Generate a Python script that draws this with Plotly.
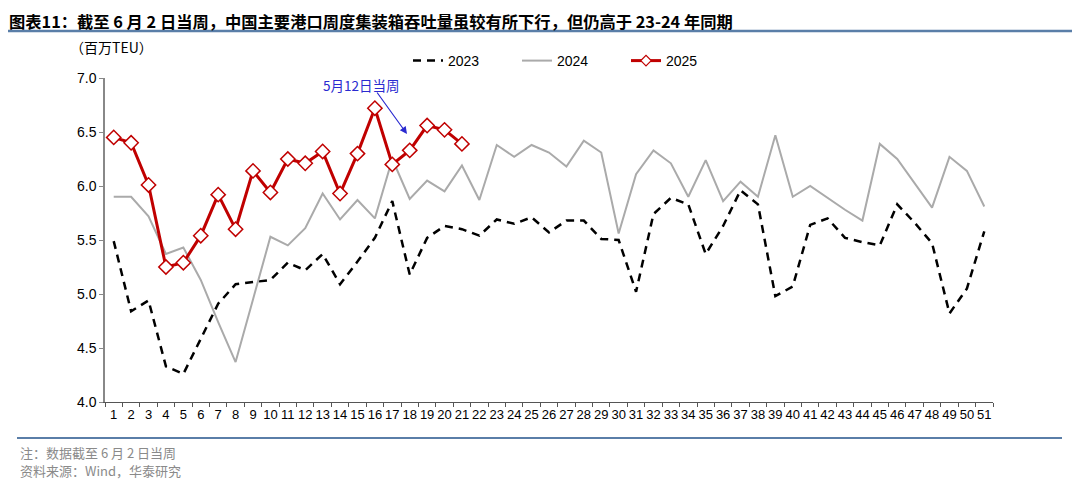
import plotly.graph_objects as go

weeks = [str(i) for i in range(1, 52)]

y2023 = [5.49, 4.84, 4.94, 4.33, 4.26, 4.59, 4.91, 5.09, 5.11, 5.13,
         5.29, 5.22, 5.37, 5.09, 5.30, 5.52, 5.86, 5.18, 5.52, 5.63,
         5.60, 5.54, 5.69, 5.65, 5.71, 5.57, 5.68, 5.68, 5.51, 5.50,
         5.02, 5.74, 5.89, 5.83, 5.37, 5.63, 5.96, 5.83, 4.98, 5.07,
         5.64, 5.70, 5.52, 5.48, 5.45, 5.83, 5.66, 5.47, 4.82, 5.05,
         5.58]

y2024 = [5.90, 5.90, 5.72, 5.37, 5.43, 5.13, 4.74, 4.37, 4.95, 5.53,
         5.45, 5.61, 5.93, 5.69, 5.87, 5.70, 6.25, 5.88, 6.05, 5.95,
         6.19, 5.87, 6.38, 6.27, 6.38, 6.31, 6.18, 6.42, 6.31, 5.56,
         6.11, 6.33, 6.21, 5.90, 6.24, 5.86, 6.04, 5.90, 6.47, 5.90,
         6.00, 5.89, 5.78, 5.68, 6.39, 6.25, 6.02, 5.80, 6.27, 6.14,
         5.81]

y2025 = [6.45, 6.40, 6.01, 5.25, 5.29, 5.54, 5.92, 5.60, 6.14, 5.94,
         6.25, 6.21, 6.32, 5.93, 6.30, 6.72, 6.20, 6.33, 6.56, 6.52,
         6.39]

series_names = ["2023", "2024", "2025"]

title_text = "图表11：截至 6 月 2 日当周，中国主要港口周度集装箱吞吐量虽较有所下行，但仍高于 23-24 年同期"
unit_text = "（百万TEU）"
note_text = "注：数据截至 6 月 2 日当周"
source_text = "资料来源：Wind，华泰研究"
callout_text = "5月12日当周"

FONT = "Liberation Sans, Arial, Noto Sans CJK SC, sans-serif"
CJK = "Noto Sans CJK SC, sans-serif"

RED = "#c00000"
line23 = dict(color="#000000", width=2.5, dash="8px,6px")
line24 = dict(color="#aaaaaa", width=2)
line25 = dict(color=RED, width=3)

fig = go.Figure()
fig.add_trace(go.Scatter(x=weeks, y=y2023, name=series_names[0], mode="lines",
                         line=line23, showlegend=False))
fig.add_trace(go.Scatter(x=weeks, y=y2024, name=series_names[1], mode="lines",
                         line=line24, showlegend=False))
fig.add_trace(go.Scatter(x=weeks[:len(y2025)], y=y2025, name=series_names[2],
                         mode="lines+markers", line=line25, showlegend=False,
                         marker=dict(symbol="diamond", size=11, color="white",
                                     line=dict(color=RED, width=1.5))))
# legend entries (smaller marker in the key, like the reference)
fig.add_trace(go.Scatter(x=[None], y=[None], name=series_names[0], mode="lines", line=line23))
fig.add_trace(go.Scatter(x=[None], y=[None], name=series_names[1], mode="lines", line=line24))
fig.add_trace(go.Scatter(x=[None], y=[None], name=series_names[2], mode="lines+markers",
                         line=line25,
                         marker=dict(symbol="diamond", size=8, color="white",
                                     line=dict(color=RED, width=1.2))))

# page body has an 8px margin; work in screen pixels
OFF = 8
W, H = 1080 - OFF, 487 - OFF
PL, PR, PT, PB = 105, 993, 78, 402  # plot area in screen pixels
L, T = PL - OFF, PT - OFF
R, B = W - (PR - OFF), H - (PB - OFF)
pw, ph = PR - PL, PB - PT

def px(x):
    return (x - PL) / pw

def py(y):
    return (PB - y) / ph

fig.update_layout(
    width=W, height=H,
    margin=dict(l=L, r=R, t=T, b=B, autoexpand=False),
    paper_bgcolor="white", plot_bgcolor="white",
    font=dict(family=FONT, size=13, color="#000000"),
    showlegend=True,
    legend=dict(orientation="h", x=px(408), y=py(61), xanchor="left", yanchor="middle",
                entrywidth=64, entrywidthmode="pixels", traceorder="normal",
                font=dict(size=14, family=FONT), bgcolor="rgba(0,0,0,0)"),
    xaxis=dict(type="category", range=[-0.5, 50.5], tickson="boundaries",
               ticks="outside", ticklen=4, tickcolor="#555555",
               showline=True, linecolor="#555555", linewidth=1,
               showgrid=False, zeroline=False,
               tickfont=dict(size=13, family=FONT), tickangle=0),
    yaxis=dict(range=[4, 7], dtick=0.5, tick0=4, tickformat=".1f",
               ticks="outside", ticklen=4, tickcolor="#888888",
               showline=True, linecolor="#888888", linewidth=1.5,
               showgrid=False, zeroline=False,
               tickfont=dict(size=14, family=FONT)),
)

fig.add_annotation(text="<b>" + title_text + "</b>", xref="paper", yref="paper",
                   x=px(8), y=py(8), xanchor="left", yanchor="top", showarrow=False,
                   borderpad=0,
                   font=dict(size=16.3, family=CJK, color="#000000"))
fig.add_annotation(text=unit_text, xref="paper", yref="paper",
                   x=px(68), y=py(47), xanchor="left", yanchor="middle", showarrow=False,
                   font=dict(size=14, family=CJK, color="#000000"))
fig.add_annotation(text=note_text, xref="paper", yref="paper",
                   x=px(18), y=py(452), xanchor="left", yanchor="middle", showarrow=False,
                   font=dict(size=13, family=CJK, color="#8a8a8a"))
fig.add_annotation(text=source_text, xref="paper", yref="paper",
                   x=px(18), y=py(470), xanchor="left", yanchor="middle", showarrow=False,
                   font=dict(size=13, family=CJK, color="#8a8a8a"))

# callout
fig.add_annotation(text=callout_text, xref="paper", yref="paper",
                   x=px(361), y=py(85), xanchor="center", yanchor="middle", showarrow=False,
                   font=dict(size=13.5, family=CJK, color="#2a2ad0"))
fig.add_annotation(text="", xref="paper", yref="paper",
                   x=px(407), y=py(134), ax=376 - 407, ay=91 - 134, axref="pixel", ayref="pixel",
                   showarrow=True, arrowhead=2, arrowsize=1.2, arrowwidth=1.2,
                   arrowcolor="#2a2ad0")

# rules
fig.add_shape(type="line", xref="paper", yref="paper",
              x0=px(8), x1=px(1076), y0=py(31), y1=py(31),
              line=dict(color="#5a7ea8", width=2.5))
fig.add_shape(type="line", xref="paper", yref="paper",
              x0=px(17), x1=px(1062), y0=py(438), y1=py(438),
              line=dict(color="#5a7ea8", width=2))

fig.write_html("out.html")
